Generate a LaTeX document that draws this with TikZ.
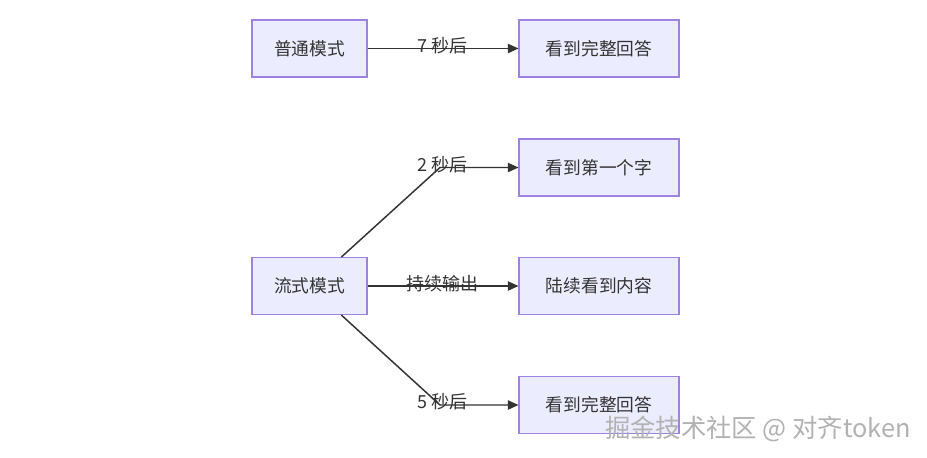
\documentclass[tikz,border=0pt]{standalone}
\usepackage{fontspec}
\setmainfont{Noto Sans CJK SC}
\usepackage{tikz}
\usetikzlibrary{arrows.meta}
\definecolor{boxfill}{HTML}{ECECFF}
\definecolor{boxline}{HTML}{9D82DE}
\definecolor{edgeline}{HTML}{333333}
\tikzstyle{mode} = [rectangle, minimum width = 86.25pt, minimum height = 42.75pt, text centered, draw = boxline, line width = 0.8pt, fill = boxfill, text = edgeline, font = \fontsize{13.3}{15}\selectfont]
\tikzstyle{result} = [mode, minimum width = 120pt]
\tikzstyle{arrow} = [line width = 1.1pt, draw = edgeline, -{Triangle[length=8pt,width=7pt]}]
\tikzstyle{lbl} = [text = edgeline, font = \fontsize{13.5}{15}\selectfont, inner sep = 0pt]

\begin{document}
\begin{tikzpicture}[x = 0.75pt, y = -0.75pt]
\useasboundingbox (0,0) rectangle (927,457);

\node(normal) [mode] at (309.5,48.5) {普通模式};
\node(fullA)  [result] at (599,48.5) {看到完整回答};
\node(stream) [mode] at (309.5,286) {流式模式};
\node(first)  [result] at (599,167.5) {看到第一个字};
\node(gradual)[result] at (599,286) {陆续看到内容};
\node(fullB)  [result] at (599,405) {看到完整回答};

\coordinate (up) at (440,167.5);
\coordinate (down) at (440,405);

\draw [arrow] (normal) -- (fullA);
\draw [arrow] (stream) -- (up) -- (first);
\draw [arrow] (stream) -- (gradual);
\draw [arrow] (stream) -- (down) -- (fullB);

\node(t7)   [lbl] at (442.5,46) {7 秒后};
\node(t2)   [lbl] at (442.5,164.5) {2 秒后};
\node(tout) [lbl] at (442.5,284) {持续输出};
\node(t5)   [lbl] at (442.5,402) {5 秒后};

% watermark
\node(mark) [text = gray!60, font = \fontsize{19}{21}\selectfont, inner sep = 0pt] at (758,429) {掘金技术社区 @ 对齐token};

\end{tikzpicture}
\end{document}
